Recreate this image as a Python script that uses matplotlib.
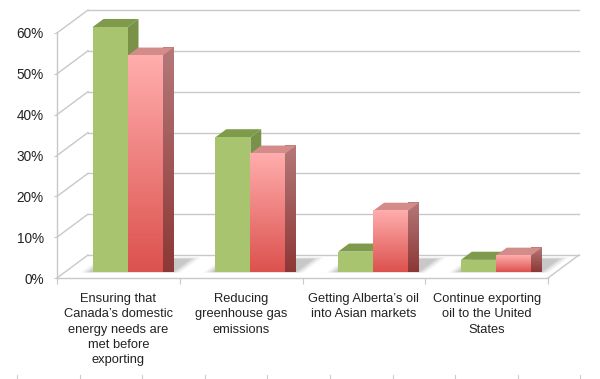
import numpy as np
import matplotlib.pyplot as plt
from matplotlib.patches import Polygon
from matplotlib.ticker import PercentFormatter
from matplotlib.colors import LinearSegmentedColormap

plt.rcParams['font.family'] = ['Liberation Sans', 'DejaVu Sans']

categories = ["Ensuring that\nCanada\u2019s domestic\nenergy needs are\nmet before\nexporting",
              "Reducing\ngreenhouse gas\nemissions",
              "Getting Alberta\u2019s oil\ninto Asian markets",
              "Continue exporting\noil to the United\nStates"]
green_vals = [60, 33, 5, 3]
red_vals = [53, 29, 15, 4]
yticks = [0, 10, 20, 30, 40, 50, 60]

grid_col = '#c8c8c8'
text_col = '#222222'

fig = plt.figure(figsize=(6, 3.79), dpi=100)
ax = fig.add_axes([57/600, 101/379, 491/600, 245/379])
ax.set_xlim(0, 4)
ax.set_ylim(0, 60)

# depth vector (one unit of depth) in data units
DX = 31 / 122.75
DY = 23 / (245 / 60)
f0, f1 = 0.26, 0.61      # front / back of the bars inside the floor
w = 0.285                # bar width


def proj(x, y, z):
    return (x + z * DX, y + z * DY)


def line3(p, q, **kw):
    a = proj(*p)
    b = proj(*q)
    ax.plot([a[0], b[0]], [a[1], b[1]], clip_on=False, **kw)


# back wall, left wall and floor
for v in yticks:
    line3((0, v, 1), (4, v, 1), color=grid_col, lw=1.0, zorder=1)
    line3((0, v, 0), (0, v, 1), color=grid_col, lw=1.0, zorder=1)
line3((4, 0, 0), (4, 0, 1), color=grid_col, lw=1.0, zorder=1)

z = [3]


def nextz():
    z[0] += 1
    return z[0]


def poly(pts, **kw):
    p = Polygon([proj(*q) for q in pts], closed=True, clip_on=False, **kw)
    ax.add_patch(p)
    return p


def grad_img(top, bottom, extent, clip=None):
    cmap = LinearSegmentedColormap.from_list('g', [bottom, top])
    arr = np.linspace(0, 1, 64).reshape(-1, 1)
    im = ax.imshow(arr, cmap=cmap, origin='lower', extent=extent,
                   aspect='auto', interpolation='bilinear', zorder=nextz(),
                   clip_on=False)
    if clip is not None:
        im.set_clip_path(clip)
    return im


def bar3d(x0, h, kind):
    x1 = x0 + w
    side = [(x1, 0, f0), (x1, 0, f1), (x1, h, f1), (x1, h, f0)]
    top = [(x0, h, f0), (x1, h, f0), (x1, h, f1), (x0, h, f1)]
    fx0, fy0 = proj(x0, 0, f0)
    fx1, fy1 = proj(x1, h, f0)
    if kind == 'green':
        poly(side, facecolor='#7a9148', edgecolor='none', zorder=nextz())
        poly(top, facecolor='#7e9b4b', edgecolor='none', zorder=nextz())
        poly([(x0, 0, f0), (x1, 0, f0), (x1, h, f0), (x0, h, f0)],
             facecolor='#a9c46f', edgecolor='none', zorder=nextz())
    else:
        sp = poly(side, facecolor='none', edgecolor='none', zorder=nextz())
        grad_img('#b47878', '#8c3836', (fx1, fx1 + (f1 - f0) * DX, fy0, fy1 + (f1 - f0) * DY), clip=sp)
        poly(top, facecolor='#d48c8a', edgecolor='none', zorder=nextz())
        grad_img('#ffadad', '#dc524e', (fx0, fx1, fy0, fy1))


for i in range(len(categories)):
    c = i + 0.5
    gx0 = c - w + 0.01
    rx0 = c + 0.01
    # soft floor shadow
    for k, a in enumerate([0.06, 0.08, 0.10, 0.12]):
        e = 0.09 - k * 0.02
        poly([(gx0 - e, 0, f0 - e * 0.3), (rx0 + w + 0.06 + e, 0, f0 - e * 0.3),
              (rx0 + w + 0.06 + e, 0, f1 + 0.2 + e), (gx0 - e, 0, f1 + 0.2 + e)],
             facecolor='#555555', edgecolor='none', alpha=a, zorder=nextz())
    bar3d(gx0, green_vals[i], 'green')
    bar3d(rx0, red_vals[i], 'red')

ax.set_xlim(0, 4)
ax.set_ylim(0, 60)

for s in ['top', 'right']:
    ax.spines[s].set_visible(False)
for s in ['left', 'bottom']:
    ax.spines[s].set_color(grid_col)
    ax.spines[s].set_linewidth(1.0)
    ax.spines[s].set_zorder(2)

ax.set_yticks(yticks)
ax.yaxis.set_major_formatter(PercentFormatter(decimals=0))
ax.tick_params(axis='y', length=2.5, color=grid_col, pad=7,
               labelsize=9.8, labelcolor=text_col)

ax.set_xticks([0, 1, 2, 3, 4])
ax.set_xticklabels([])
ax.set_xticks([0.5, 1.5, 2.5, 3.5], minor=True)
ax.set_xticklabels(categories, minor=True, fontsize=9.3, color=text_col,
                   linespacing=1.35, va='top')
ax.tick_params(axis='x', which='major', length=4, color=grid_col)
ax.tick_params(axis='x', which='minor', length=0, pad=11)
ax.patch.set_visible(False)

# faint marks along the bottom edge
for k in range(10):
    xf = (17 + 62.6 * k) / 600
    fig.add_artist(plt.Line2D([xf, xf], [0, 4 / 379], color='#cccccc', lw=0.8))

fig.savefig('out.png', dpi=100)
